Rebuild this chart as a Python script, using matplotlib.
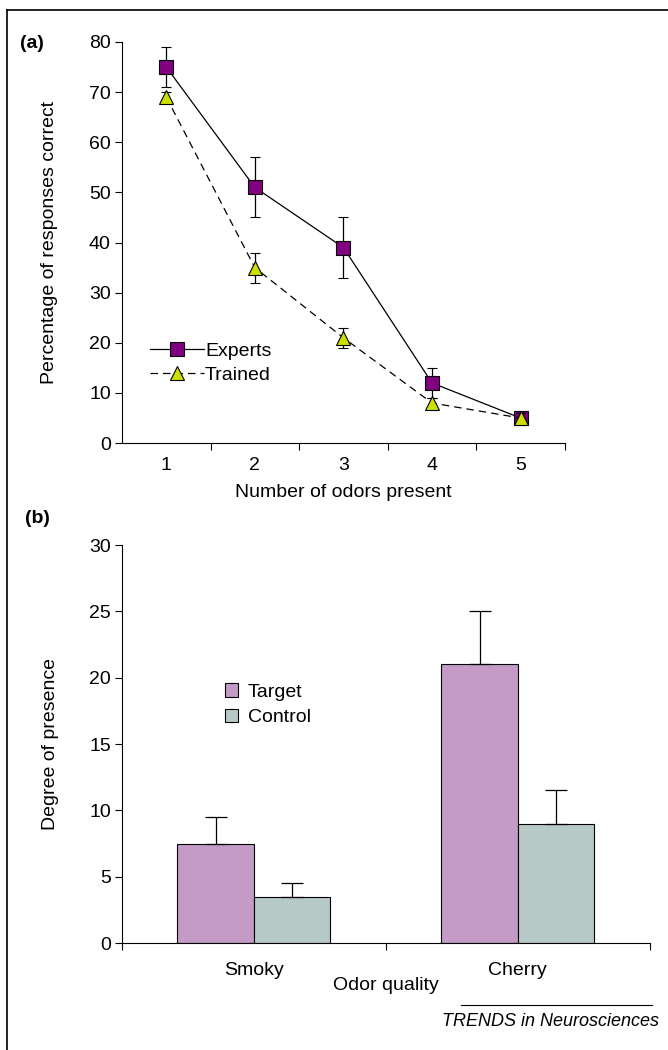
import numpy as np
import matplotlib.pyplot as plt
from matplotlib.lines import Line2D
from matplotlib.patches import Patch

plt.rcParams['font.family'] = ['Liberation Sans', 'DejaVu Sans']

# (a) data
n_odors = [1, 2, 3, 4, 5]
experts = [75, 51, 39, 12, 5]
experts_err = [4, 6, 6, 3, 1]
trained = [69, 35, 21, 8, 5]
trained_err = [1, 3, 2, 1, 1]

# (b) data
qualities = ['Smoky', 'Cherry']
target = [7.5, 21]
target_err = [2, 4]
control = [3.5, 9]
control_err = [1, 2.5]

FS = 14
purple = '#800080'
yellow = '#CCE000'

fig = plt.figure(figsize=(6.68, 10.5), dpi=100)

# frame lines on top and left of the figure
fig.add_artist(Line2D([7/668, 1], [1-10/1050, 1-10/1050], color='black', lw=1.2))
fig.add_artist(Line2D([7/668, 7/668], [0, 1-10/1050], color='black', lw=1.2))

# ---- panel (a)
ax1 = fig.add_axes([0.1826, 0.578, 0.663, 0.382])
ax1.errorbar(n_odors, trained, yerr=trained_err, color='black', lw=0.9, ls=(0, (6, 4)),
             marker='^', markersize=10.5, markerfacecolor=yellow, markeredgecolor='black',
             markeredgewidth=0.8, capsize=3.5, elinewidth=0.9, ecolor='black', zorder=3)
ax1.errorbar(n_odors, experts, yerr=experts_err, color='black', lw=0.9, ls='-',
             marker='s', markersize=10, markerfacecolor=purple, markeredgecolor='black',
             markeredgewidth=0.8, capsize=3.5, elinewidth=0.9, ecolor='black', zorder=2)
ax1.set_xlim(0.5, 5.5)
ax1.set_ylim(0, 80)
ax1.set_yticks(np.arange(0, 81, 10))
ax1.set_xticks([1.5, 2.5, 3.5, 4.5, 5.5])
ax1.set_xticklabels([])
ax1.set_xticks(n_odors, minor=True)
ax1.set_xticklabels([str(n) for n in n_odors], minor=True)
ax1.tick_params(axis='x', which='minor', length=0, labelsize=FS, pad=10)
ax1.tick_params(axis='x', which='major', length=5, direction='out')
ax1.tick_params(axis='y', length=5, direction='out', labelsize=FS, pad=3)
for s in ['top', 'right']:
    ax1.spines[s].set_visible(False)
ax1.set_xlabel('Number of odors present', fontsize=FS, labelpad=7)
ax1.set_ylabel('Percentage of responses correct', fontsize=FS, labelpad=22)
handles = [Line2D([], [], color='black', lw=0.9, marker='s', markersize=10,
                  markerfacecolor=purple, markeredgecolor='black', markeredgewidth=0.8),
           Line2D([], [], color='black', lw=0.9, ls=(0, (6, 4)), marker='^', markersize=10.5,
                  markerfacecolor=yellow, markeredgecolor='black', markeredgewidth=0.8)]
ax1.legend(handles, ['Experts', 'Trained'], loc='upper left', bbox_to_anchor=(0.045, 0.27),
           frameon=False, fontsize=FS, handlelength=2.8, handletextpad=0.05,
           labelspacing=0.3, borderaxespad=0)
fig.text(20/668, 1-43/1050, '(a)', fontsize=FS, fontweight='bold', va='center')

# ---- panel (b)
ax2 = fig.add_axes([0.1826, 0.1019, 0.79, 0.379])
x = np.arange(1, len(qualities) + 1)
w = 0.29
ek = dict(elinewidth=0.9, capthick=0.9, ecolor='black')
ax2.bar(x - w/2, target, w, yerr=[np.zeros(len(target)), target_err], color='#C39BC6',
        edgecolor='black', lw=0.8, capsize=8, error_kw=ek)
ax2.bar(x + w/2, control, w, yerr=[np.zeros(len(control)), control_err], color='#B6C9C6',
        edgecolor='black', lw=0.8, capsize=8, error_kw=ek)
ax2.set_xlim(0.5, 2.5)
ax2.set_ylim(0, 30)
ax2.set_yticks(np.arange(0, 31, 5))
ax2.set_xticks([0.5, 1.5, 2.5])
ax2.set_xticklabels([])
ax2.set_xticks(x, minor=True)
ax2.set_xticklabels(qualities, minor=True)
ax2.tick_params(axis='x', which='minor', length=0, labelsize=FS, pad=14)
ax2.tick_params(axis='x', which='major', length=5, direction='out')
ax2.tick_params(axis='y', length=5, direction='out', labelsize=FS, pad=3)
for s in ['top', 'right']:
    ax2.spines[s].set_visible(False)
ax2.set_xlabel('Odor quality', fontsize=FS, labelpad=-2)
ax2.set_ylabel('Degree of presence', fontsize=FS, labelpad=22)
leg_b = [Patch(facecolor='#C39BC6', edgecolor='black', lw=0.8),
         Patch(facecolor='#B6C9C6', edgecolor='black', lw=0.8)]
ax2.legend(leg_b, ['Target', 'Control'], loc='upper left', bbox_to_anchor=(0.18, 0.672),
           frameon=False, fontsize=FS, handlelength=0.7, handleheight=0.7,
           handletextpad=0.5, labelspacing=0.4, borderaxespad=0)
fig.text(25/668, 1-518/1050, '(b)', fontsize=FS, fontweight='bold', va='center')

# footer
fig.add_artist(Line2D([461/668, 652/668], [1-1005/1050, 1-1005/1050], color='black', lw=0.8))
fig.text(551/668, 1-1022/1050, 'TRENDS in Neurosciences', fontsize=13, style='italic',
         ha='center', va='center')

plt.savefig('out.png', dpi=100)
